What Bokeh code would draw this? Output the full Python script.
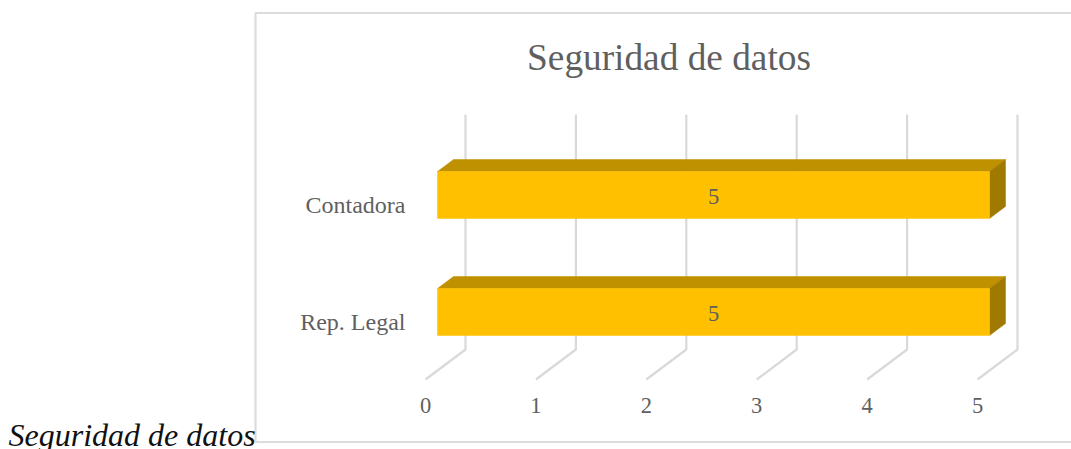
from bokeh.plotting import figure
from bokeh.models import Range1d
from bokeh.core.properties import value
from bokeh.embed import file_html
from bokeh.resources import INLINE

title = "Seguridad de datos"
caption = "Seguridad de datos"
categories = ["Rep. Legal", "Contadora"]
values = [5, 5]
ticks = [0, 1, 2, 3, 4, 5]

W, H = 1071, 449
PX = 110.4      # pixels per value unit
PY = 117.0      # pixels per category step
X0 = 437        # picture pixel of value 0, front plane
Y0 = 311.5      # picture pixel of first category centre

p = figure(width=W, height=H, output_backend="svg", toolbar_location=None,
           x_range=Range1d(-X0 / PX, (W - X0) / PX),
           y_range=Range1d(-(H - Y0) / PY, Y0 / PY),
           min_border=0, outline_line_color=None, background_fill_color="white",
           border_fill_color="white")
p.axis.visible = False
p.grid.visible = False

def fx(px):
    return (px - X0) / PX

def fy(py):
    return (Y0 - py) / PY

dx_bar, dy_bar = 16 / PX, 12 / PY      # depth of the bar
half = 23.5 / PY                       # half bar thickness
dx_wall = 28 / PX                      # wall offset from the front plane
dx_floor = -12 / PX

FRAME = "#dcdcdc"
GRID = "#d9d9d9"
TEXT = "#5f5f5f"
SERIF = value("Liberation Serif")

# chart frame
p.line([fx(1071), fx(255), fx(255), fx(1071)],
       [fy(12.5), fy(12.5), fy(441.5), fy(441.5)],
       line_color=FRAME, line_width=2.2)

# back wall gridlines and floor ticks
for t in ticks:
    p.line([t + dx_wall, t + dx_wall, t + dx_floor],
           [fy(114), fy(349), fy(379)], line_color=GRID, line_width=2.2)

# bars
for i, v in enumerate(values):
    b, tp = i - half, i + half
    p.patch([0, dx_bar, v + dx_bar, v], [tp, tp + dy_bar, tp + dy_bar, tp],
            fill_color="#BF9000", line_color="#BF9000", line_width=0.5)
    p.patch([v, v + dx_bar, v + dx_bar, v], [b, b + dy_bar, tp + dy_bar, tp],
            fill_color="#A07A00", line_color="#A07A00", line_width=0.5)
    p.quad(left=[0], right=[v], bottom=[b], top=[tp],
           fill_color="#FFC000", line_color="#FFC000", line_width=0.5)
    p.text([v / 2], [i - 1.5 / PY], text=[str(v)], text_font=SERIF,
           text_font_size="22.5px", text_color=TEXT, text_align="center",
           text_baseline="middle")
    p.text([fx(405)], [i - 9.5 / PY], text=[categories[i]], text_font=SERIF,
           text_font_size="24px", text_color=TEXT, text_align="right",
           text_baseline="middle")

# value axis labels
p.text([t + dx_floor for t in ticks], [fy(405)] * len(ticks),
       text=[str(t) for t in ticks], text_font=SERIF, text_font_size="22.5px",
       text_color=TEXT, text_align="center", text_baseline="middle")

# chart title
p.text([fx(668.5)], [fy(57)], text=[title], text_font=SERIF,
       text_font_size="37.3px", text_color=TEXT, text_align="center",
       text_baseline="middle")

# caption below, outside the frame
p.text([fx(8)], [fy(434)], text=[caption], text_font=SERIF,
       text_font_style="italic", text_font_size="32px", text_color="#111111",
       text_align="left", text_baseline="middle")

open("out.html", "w").write(file_html(p, INLINE))
